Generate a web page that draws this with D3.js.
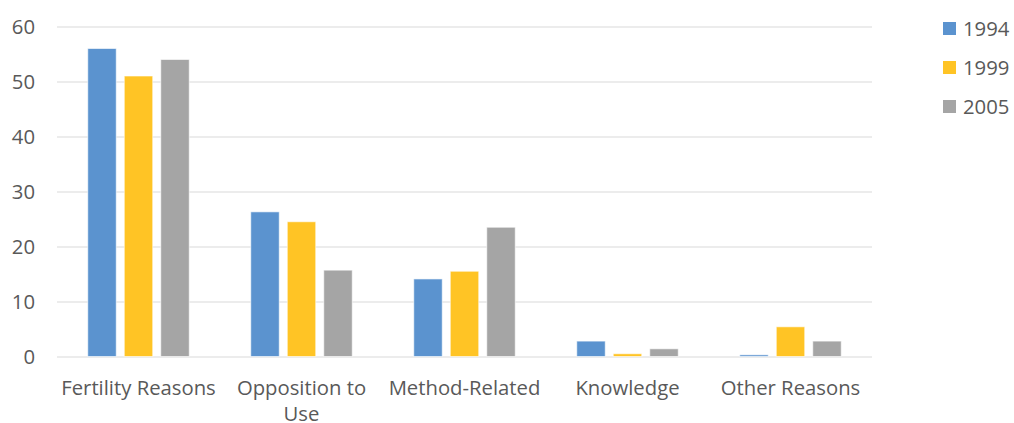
<!DOCTYPE html>
<html>
<head>
<meta charset="utf-8">
<script src="https://cdn.jsdelivr.net/npm/d3@7"></script>
<style>
  html, body { margin: 0; padding: 0; background: #fff; }
  svg { display: block; }
  text { font-family: "Open Sans", "Noto Sans", sans-serif; fill: #595959; }
</style>
</head>
<body>
<svg id="chart" width="1014" height="423"></svg>
<script>
// Reasons for not intending to use contraception, percent of women, by survey year
const categories = ["Fertility Reasons", "Opposition to Use", "Method-Related", "Knowledge", "Other Reasons"];
const series = ["1994", "1999", "2005"];
const values1994 = [56, 26.3, 14.1, 2.8, 0.3];
const values1999 = [51, 24.5, 15.5, 0.5, 5.4];
const values2005 = [54, 15.7, 23.5, 1.4, 2.8];
const yTicks = [0, 10, 20, 30, 40, 50, 60];
const colors = ["#5b93cf", "#ffc425", "#a5a5a5"];

const valuesBySeries = [values1994, values1999, values2005];

const svg = d3.select("#chart");
const plot = { left: 57, right: 872, top: 26.5, bottom: 356.5 };
const fontSize = 20.3;

const y = d3.scaleLinear().domain([0, 60]).range([plot.bottom, plot.top]);
const x0 = d3.scaleBand().domain(categories).range([plot.left, plot.right]).padding(0);
const groupWidth = 109.5;
const x1 = d3.scaleBand().domain(series).range([0, groupWidth])
  .paddingInner(0.22).paddingOuter(0.11);

// gridlines
const yAxis = d3.axisLeft(y).tickValues(yTicks).tickSize(-(plot.right - plot.left)).tickPadding(22);
const gy = svg.append("g").attr("transform", `translate(${plot.left},0)`).call(yAxis);
gy.select(".domain").remove();
gy.selectAll(".tick line").attr("stroke", "#d9d9d9").attr("stroke-width", 1);
gy.selectAll(".tick text")
  .attr("font-size", fontSize)
  .attr("fill", "#595959")
  .style("font-family", '"Open Sans", sans-serif');

// bars
const groups = svg.append("g").selectAll("g")
  .data(categories)
  .join("g")
  .attr("transform", c => `translate(${x0(c) + x0.bandwidth() / 2 - groupWidth / 2},0)`);

groups.selectAll("rect")
  .data((c, i) => series.map((s, j) => ({ s, j, v: valuesBySeries[j][i] })))
  .join("rect")
  .attr("x", d => x1(d.s))
  .attr("width", x1.bandwidth())
  .attr("y", d => y(d.v))
  .attr("height", d => y(0) - y(d.v))
  .attr("fill", d => colors[d.j])
  .attr("stroke", "#ffffff")
  .attr("stroke-opacity", 0.6)
  .attr("stroke-width", 1);

// category labels, wrapped when too wide for the band
const xAxis = d3.axisBottom(x0).tickSize(0).tickPadding(0);
const gx = svg.append("g").attr("transform", `translate(0,${plot.bottom})`).call(xAxis);
gx.select(".domain").remove();
gx.selectAll(".tick text").remove();
gx.selectAll(".tick").each(function (c) {
  const t = d3.select(this).append("text")
    .attr("text-anchor", "middle")
    .attr("font-size", fontSize)
    .attr("fill", "#595959")
    .style("font-family", '"Open Sans", sans-serif');
  const lines = c === "Opposition to Use" ? ["Opposition to", "Use"] : [c];
  lines.forEach((ln, k) => {
    t.append("tspan").attr("x", 0).attr("y", 38.5 + k * 26).text(ln);
  });
});

// legend
const legend = svg.append("g").selectAll("g")
  .data(series)
  .join("g")
  .attr("transform", (s, i) => `translate(943,${22 + i * 39})`);
legend.append("rect").attr("width", 13).attr("height", 13).attr("fill", (s, i) => colors[i]);
legend.append("text")
  .attr("x", 20).attr("y", 6.5).attr("dy", "0.35em")
  .attr("font-size", fontSize)
  .text(s => s);
</script>
</body>
</html>
